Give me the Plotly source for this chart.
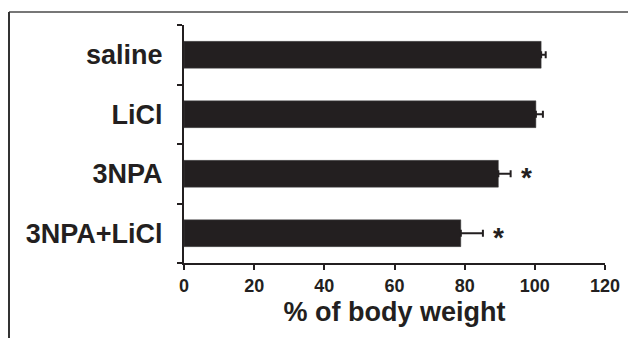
import plotly.graph_objects as go

groups = ["saline", "LiCl", "3NPA", "3NPA+LiCl"]
body_weight = [101.8, 100.3, 89.6, 78.9]
sem = [1.3, 2.0, 3.5, 6.3]
significance = ["", "", "*", "*"]
x_ticks = [0, 20, 40, 60, 80, 100, 120]

FONT = "Liberation Sans, Arial, sans-serif"
BAR = "#231f20"

fig = go.Figure()
fig.add_trace(go.Bar(
    x=body_weight, y=groups, orientation="h",
    marker=dict(color=BAR, line=dict(color="#444", width=0.5)),
    error_x=dict(type="data", array=sem, symmetric=False, arrayminus=[0]*len(sem),
                 color=BAR, thickness=2, width=3.5),
    width=0.45,
    hoverinfo="skip",
))

for g, v, e, s in zip(groups, body_weight, sem, significance):
    if s:
        fig.add_annotation(x=v + e, y=g, text=s, showarrow=False,
                           xanchor="left", xshift=8, yshift=-4,
                           font=dict(family=FONT, size=28, color=BAR, weight="bold"))

L, R, T, B = 184, 23, 25, 75
W, H = 628, 338
pw, ph = W - L - R, H - T - B

fig.update_layout(
    width=W, height=H,
    margin=dict(l=L, r=R, t=T, b=B, pad=0, autoexpand=False),
    plot_bgcolor="white", paper_bgcolor="white",
    showlegend=False,
    font=dict(family=FONT, color=BAR),
    xaxis=dict(
        range=[0, 120], tickvals=x_ticks, ticks="outside", ticklen=5, tickwidth=2,
        tickcolor=BAR, showline=True, linecolor=BAR, linewidth=2, showgrid=False,
        zeroline=False, automargin=False,
        tickfont=dict(family=FONT, size=18, color=BAR, weight="bold"),
        title=dict(text="% of body weight",
                   font=dict(family=FONT, size=27, color=BAR, weight="bold"),
                   standoff=8),
    ),
    yaxis=dict(
        categoryorder="array", categoryarray=groups[::-1], range=[-0.5, 3.5],
        tickson="boundaries", ticks="outside", ticklen=5, tickwidth=2, tickcolor=BAR,
        showline=True, linecolor=BAR, linewidth=2, showgrid=False, zeroline=False,
        automargin=False, ticklabelstandoff=14,
        tickfont=dict(family=FONT, size=27, color=BAR, weight="bold"),
    ),
)

# outer frame lines (top and left) of the figure panel
fx0 = (9 - L) / pw
fx1 = (W - L) / pw
fy_top = (H - B - 12) / ph
fy_bot = (H - B - H) / ph
fig.add_shape(type="line", xref="paper", yref="paper", x0=fx0, x1=fx1, y0=fy_top, y1=fy_top,
              line=dict(color="#777777", width=2))
fig.add_shape(type="line", xref="paper", yref="paper", x0=fx0, x1=fx0, y0=fy_top, y1=fy_bot,
              line=dict(color="#333333", width=2))

fig.write_html("out.html", config={"displayModeBar": False},
               post_script="document.body.style.margin='0';document.body.style.overflow='hidden';")
